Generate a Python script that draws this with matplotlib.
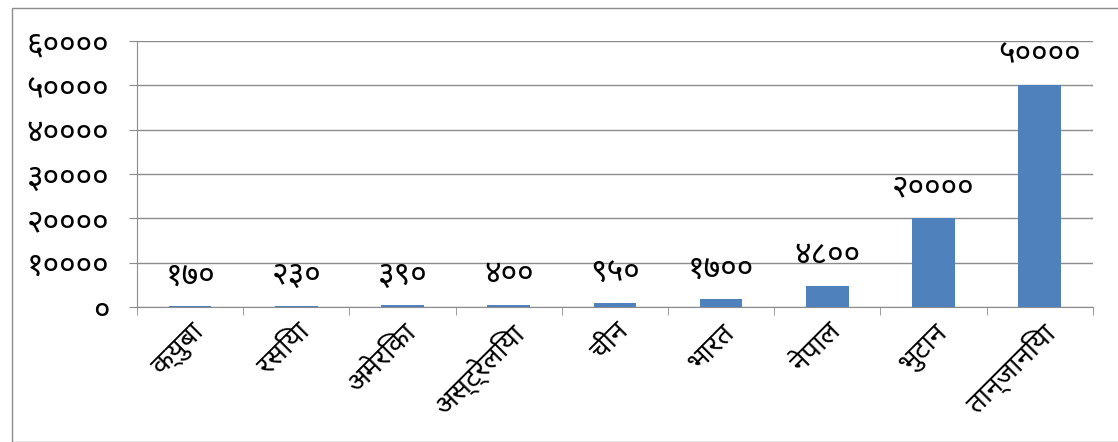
import numpy as np
import matplotlib
matplotlib.use('Agg')
import matplotlib.pyplot as plt
from matplotlib import font_manager
from matplotlib.patches import Rectangle

countries = ['क्युबा', 'रसिया', 'अमेरिका', 'अस्ट्रेलिया', 'चीन', 'भारत', 'नेपाल', 'भुटान', 'तान्जानिया']
values = [170, 230, 390, 400, 950, 1700, 4800, 20000, 50000]
yticks = [0, 10000, 20000, 30000, 40000, 50000, 60000]

DEV_DIGITS = str.maketrans('0123456789', '०१२३४५६७८९')


def dev(n):
    return str(n).translate(DEV_DIGITS)


# first installed family that draws Devanagari well
installed = {f.name for f in font_manager.fontManager.ttflist}
wanted = ['Noto Sans Devanagari', 'Hind', 'Mukta', 'Poppins', 'Annapurna SIL', 'FreeSans']
dev_family = next((n for n in wanted if n in installed), None)
plt.rcParams['font.family'] = ([dev_family] if dev_family else []) + ['DejaVu Sans']

fig = plt.figure(figsize=(11.18, 4.42), dpi=100)
ax = fig.add_axes([0.1225, 0.3054, 0.855, 0.6018])

# outer chart frame
fig.patches.append(Rectangle((12 / 1118, 0), 1.2, 1 - 8 / 442, transform=fig.transFigure,
                             fill=False, edgecolor='#8c8c8c', linewidth=1))

x = np.arange(len(countries))
ax.bar(x, values, width=0.4, color='#4f81bd', zorder=3)

for xi, v in zip(x, values):
    ax.annotate(dev(v), (xi, v), xytext=(0, 10), textcoords='offset points',
                ha='center', va='bottom', fontsize=23, color='black')

ax.set_xlim(-0.5, len(countries) - 0.5)
ax.set_ylim(0, 60000)
ax.set_yticks(yticks)
ax.set_yticklabels([dev(t) for t in yticks], fontsize=23)
ax.set_xticks(x)
ax.set_xticklabels(countries, rotation=45, ha='right', rotation_mode='anchor', fontsize=20)
ax.set_xticks(np.arange(-0.5, len(countries), 1), minor=True)
ax.tick_params(axis='x', which='major', length=0, pad=8)
ax.tick_params(axis='x', which='minor', length=6, color='#8c8c8c', direction='out')
ax.tick_params(axis='y', length=6, color='#8c8c8c', pad=14)

ax.grid(axis='y', color='#8c8c8c', linewidth=1, zorder=0)
for s in ['top', 'right']:
    ax.spines[s].set_visible(False)
ax.spines['left'].set_color('#8c8c8c')
ax.spines['bottom'].set_color('#8c8c8c')

fig.savefig('out.png', dpi=100)
